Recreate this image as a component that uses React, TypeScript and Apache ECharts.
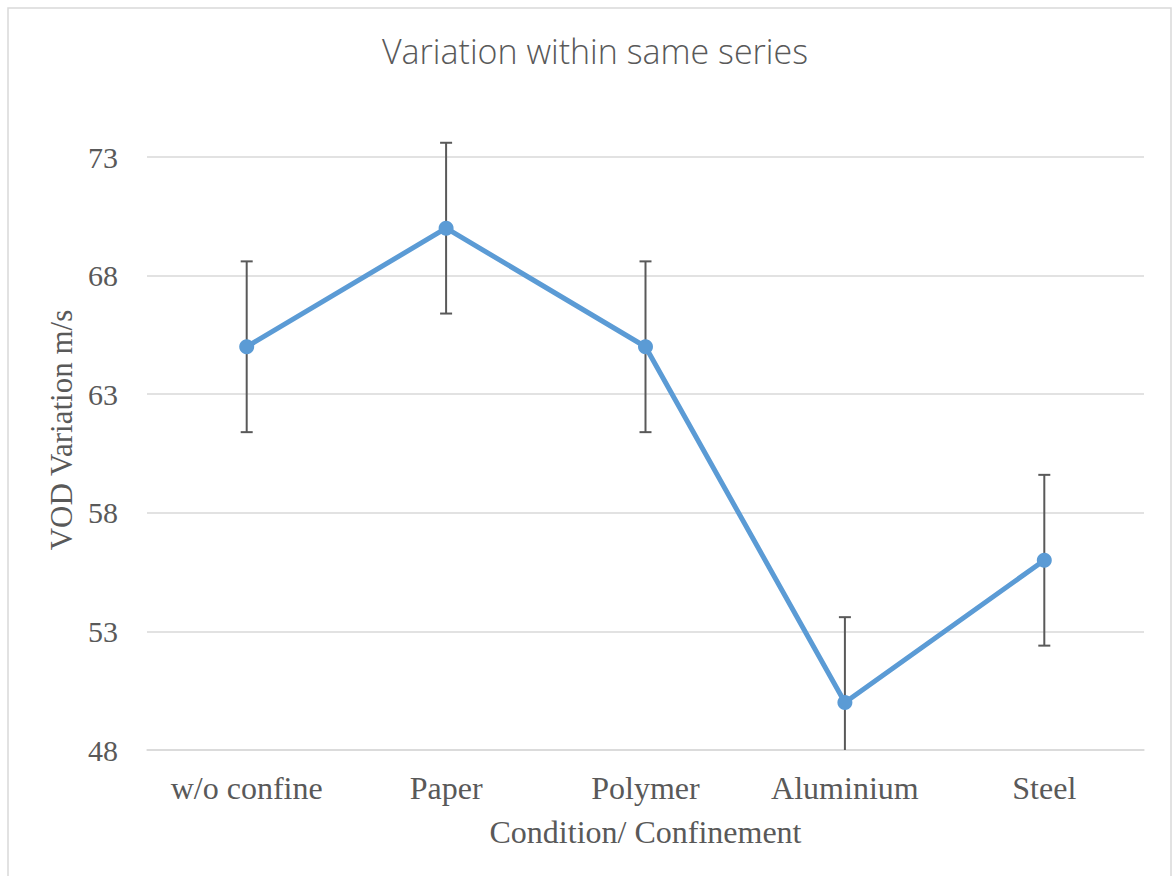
import React, { useEffect, useRef } from "react";
import * as echarts from "echarts";

const categories = ["w/o confine", "Paper", "Polymer", "Aluminium", "Steel"];
const values = [65, 70, 65, 50, 56];
const errors = [3.6, 3.6, 3.6, 3.6, 3.6];

export default function App() {
  const ref = useRef<HTMLDivElement>(null);
  useEffect(() => {
    if (!ref.current) return;
    const chart = echarts.init(ref.current, null, { renderer: "svg" });
    const serif = "'Liberation Serif', 'Times New Roman', serif";
    const gray = "#595959";
    chart.setOption({
      animation: false,
      backgroundColor: "#ffffff",
      title: {
        text: "Variation within same series",
        left: 590,
        top: 29,
        textAlign: "center",
        textStyle: { fontFamily: "'Open Sans', sans-serif", fontWeight: 300, fontSize: 34, color: gray },
      },
      graphic: [
        {
          type: "rect",
          shape: { x: 8, y: 8, width: 1163, height: 880 },
          style: { fill: "none", stroke: "#d9d9d9", lineWidth: 1.5 },
          silent: true,
        },
      ],
      grid: { left: 147, right: 32, top: 157, bottom: 126 },
      xAxis: {
        type: "category",
        data: categories,
        boundaryGap: true,
        name: "Condition/ Confinement",
        nameLocation: "middle",
        nameGap: 66,
        nameTextStyle: { fontFamily: serif, fontSize: 32, color: gray },
        axisLine: { lineStyle: { color: "#d9d9d9", width: 1.5 } },
        axisTick: { show: false },
        axisLabel: { fontFamily: serif, fontSize: 32, color: gray, margin: 22 },
      },
      yAxis: {
        type: "value",
        min: 48,
        max: 73,
        interval: 5,
        name: "VOD Variation m/s",
        nameLocation: "middle",
        nameGap: 68,
        nameTextStyle: { fontFamily: serif, fontSize: 31, color: gray, padding: [0, 0, 0, 47] },
        axisLine: { show: false },
        axisTick: { show: false },
        splitLine: { lineStyle: { color: "#d9d9d9", width: 1.5 } },
        axisLabel: { fontFamily: serif, fontSize: 30, color: gray, margin: 29 },
      },
      series: [
        {
          type: "line",
          data: values,
          symbol: "circle",
          symbolSize: 15,
          lineStyle: { color: "#5B9BD5", width: 5 },
          itemStyle: { color: "#5B9BD5" },
          z: 3,
        },
        {
          type: "custom",
          clip: false,
          z: 2,
          data: values.map((v, i) => [i, v - errors[i], v + errors[i]]),
          renderItem: (params: any, api: any) => {
            const cs = params.coordSys;
            const bottomLimit = cs.y + cs.height;
            const hi = api.coord([api.value(0), api.value(2)]);
            const lo = api.coord([api.value(0), api.value(1)]);
            const x = hi[0];
            const loY = Math.min(lo[1], bottomLimit);
            const style = { stroke: "#595959", lineWidth: 2 };
            const children: any[] = [
              { type: "line", shape: { x1: x, y1: hi[1], x2: x, y2: loY }, style },
              { type: "line", shape: { x1: x - 6, y1: hi[1], x2: x + 6, y2: hi[1] }, style },
            ];
            if (lo[1] <= bottomLimit) {
              children.push({ type: "line", shape: { x1: x - 6, y1: lo[1], x2: x + 6, y2: lo[1] }, style });
            }
            return { type: "group", children };
          },
        },
      ],
    });
    return () => chart.dispose();
  }, []);
  return (
    <div
      ref={ref}
      style={{ position: "absolute", left: 0, top: 0, width: 1176, height: 876 }}
    />
  );
}
